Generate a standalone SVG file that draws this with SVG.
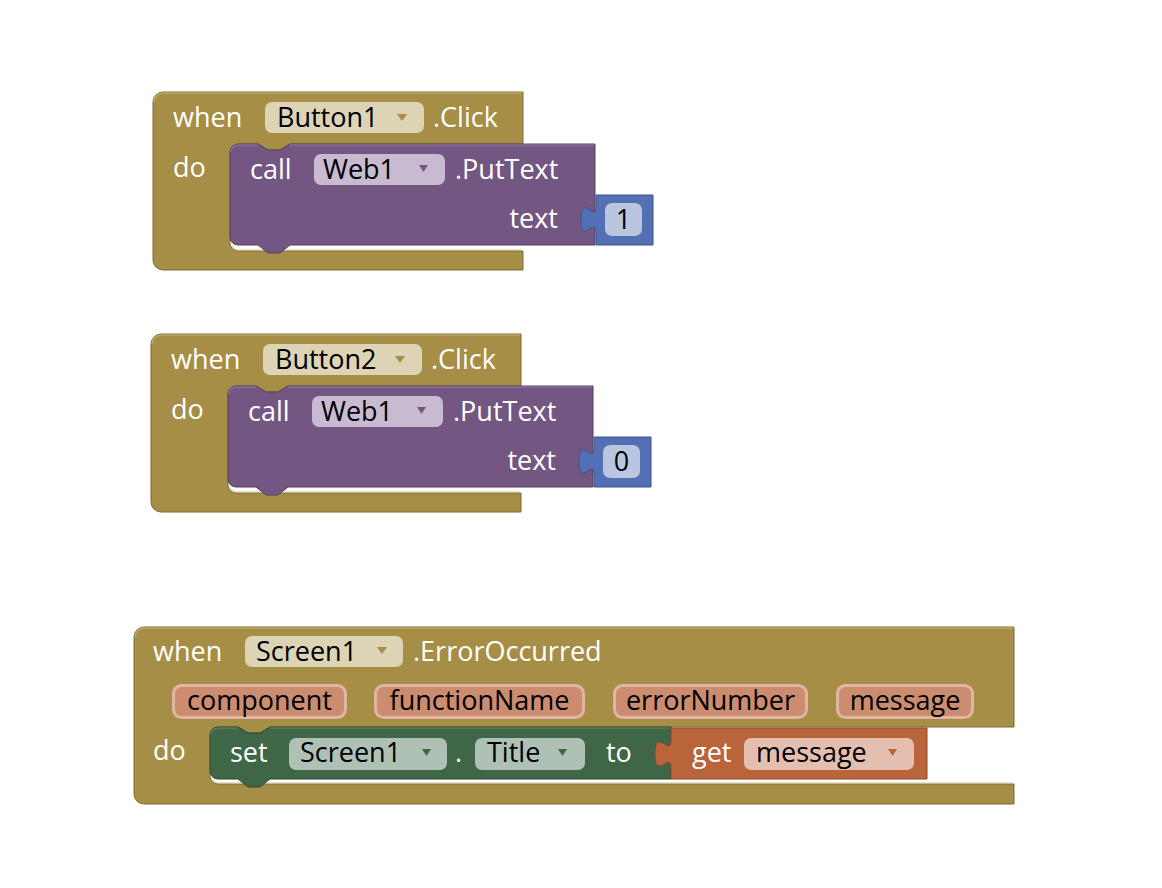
<svg xmlns="http://www.w3.org/2000/svg" width="1162" height="888" viewBox="0 0 1162 888">
<style>
text{font-family:"Open Sans","Noto Sans","DejaVu Sans",sans-serif;font-size:27px}
.w{fill:#fff}
.k{fill:#000}
.gold{fill:#A68E46;stroke:#7F6B31;stroke-width:1}
.purple{fill:#735782;stroke:#54405F;stroke-width:1}
.blue{fill:#5470B5;stroke:#3D5290;stroke-width:1}
.green{fill:#3E6647;stroke:#2B4832;stroke-width:1}
.orange{fill:#B9643A;stroke:#8A4827;stroke-width:1}
.hl{fill:none;stroke-width:1.5;opacity:0.6}
.fg{fill:#DCD4B5}
.fp{fill:#C8BAD0}
.fb{fill:#BAC6E0}
.fgr{fill:#AFC1B4}
.fo{fill:#E4BEAE}
.param{fill:#CC8C70;stroke:#E2B4A1;stroke-width:3}
.ag{fill:#A68E46}
.ap{fill:#735782}
.agr{fill:#3E6647}
.ao{fill:#B9643A}
</style>
<g id="connectors"></g>

<g id="block-button1-click">
  <path class="gold" d="M153,102 a10,10 0 0 1 10,-10 H523 V144 H290 l-10,6 h-12 l-10,-6 H238 a8,8 0 0 0 -8,8 V243 a8,8 0 0 0 8,8 H523 V270 H163 a10,10 0 0 1 -10,-10 Z"/>
  <path class="hl" stroke="#CDBB85" d="M154,102 a9,9 0 0 1 9,-9 H522 M232,245 a7,7 0 0 0 7,5 H522"/>
  <text class="w" x="173" y="127">when</text>
  <rect class="fg" x="265" y="102" width="159" height="31" rx="7"/>
  <text class="k" x="277" y="127">Button1</text>
  <path class="ag" d="M397,114 h10 l-5,7 Z"/>
  <text class="w" x="433" y="127">.Click</text>
  <text class="w" x="173" y="177">do</text>
  <g id="block-web1-puttext-1">
    <path class="purple" d="M230,152 a8,8 0 0 1 8,-8 H258 l10,6 h12 l10,-6 H595 V245 H290 l-10,8 h-12 l-10,-8 H238 a8,8 0 0 1 -8,-8 Z"/>
    <path class="hl" stroke="#9A84A6" d="M231,152 a7,7 0 0 1 7,-7 H258 M290,145 H594"/>
    <text class="w" x="250" y="179">call</text>
    <rect class="fp" x="314" y="154" width="131" height="31" rx="7"/>
    <text class="k" x="323" y="179">Web1</text>
    <path class="ap" d="M419,165 h9 l-4.5,7 Z"/>
    <text class="w" x="455" y="179">.PutText</text>
    <text class="w" x="558" y="228" text-anchor="end">text</text>
  </g>
  <g id="block-number-1">
    <path class="blue" d="M596,195 H653 V245 H596 V233 c0,-18 -15,14 -15,-13.5 s15,4.5 15,-13.5 Z"/>
    <rect class="fb" x="605" y="203" width="37" height="33" rx="7"/>
    <text class="k" x="623.5" y="229" text-anchor="middle">1</text>
  </g>
</g>

<g id="block-button2-click" transform="translate(-2,242)">
  <path class="gold" d="M153,102 a10,10 0 0 1 10,-10 H523 V144 H290 l-10,6 h-12 l-10,-6 H238 a8,8 0 0 0 -8,8 V243 a8,8 0 0 0 8,8 H523 V270 H163 a10,10 0 0 1 -10,-10 Z"/>
  <path class="hl" stroke="#CDBB85" d="M154,102 a9,9 0 0 1 9,-9 H522 M232,245 a7,7 0 0 0 7,5 H522"/>
  <text class="w" x="173" y="127">when</text>
  <rect class="fg" x="265" y="102" width="159" height="31" rx="7"/>
  <text class="k" x="277" y="127">Button2</text>
  <path class="ag" d="M397,114 h10 l-5,7 Z"/>
  <text class="w" x="433" y="127">.Click</text>
  <text class="w" x="173" y="177">do</text>
  <g id="block-web1-puttext-0">
    <path class="purple" d="M230,152 a8,8 0 0 1 8,-8 H258 l10,6 h12 l10,-6 H595 V245 H290 l-10,8 h-12 l-10,-8 H238 a8,8 0 0 1 -8,-8 Z"/>
    <path class="hl" stroke="#9A84A6" d="M231,152 a7,7 0 0 1 7,-7 H258 M290,145 H594"/>
    <text class="w" x="250" y="179">call</text>
    <rect class="fp" x="314" y="154" width="131" height="31" rx="7"/>
    <text class="k" x="323" y="179">Web1</text>
    <path class="ap" d="M419,165 h9 l-4.5,7 Z"/>
    <text class="w" x="455" y="179">.PutText</text>
    <text class="w" x="558" y="228" text-anchor="end">text</text>
  </g>
  <g id="block-number-0">
    <path class="blue" d="M596,195 H653 V245 H596 V233 c0,-18 -15,14 -15,-13.5 s15,4.5 15,-13.5 Z"/>
    <rect class="fb" x="605" y="203" width="37" height="33" rx="7"/>
    <text class="k" x="623.5" y="229" text-anchor="middle">0</text>
  </g>
</g>

<g id="block-screen1-erroroccurred">
  <path class="gold" d="M134,637 a10,10 0 0 1 10,-10 H1014 V727 H270 l-10,6 h-12 l-10,-6 H218 a8,8 0 0 0 -8,8 V776 a8,8 0 0 0 8,8 H1014 V804 H144 a10,10 0 0 1 -10,-10 Z"/>
  <path class="hl" stroke="#CDBB85" d="M135,637 a9,9 0 0 1 9,-9 H1013 M212,778 a7,7 0 0 0 7,5 H1013"/>
  <text class="w" x="153" y="661">when</text>
  <rect class="fg" x="245" y="636" width="158" height="31" rx="7"/>
  <text class="k" x="256" y="661">Screen1</text>
  <path class="ag" d="M377,647 h10 l-5,7 Z"/>
  <text class="w" x="413" y="661">.ErrorOccurred</text>
  <rect class="param" x="173.5" y="685.5" width="172" height="32" rx="8"/>
  <text class="k" x="259.5" y="710" text-anchor="middle">component</text>
  <rect class="param" x="375.5" y="685.5" width="208" height="32" rx="8"/>
  <text class="k" x="479.5" y="710" text-anchor="middle">functionName</text>
  <rect class="param" x="614.5" y="685.5" width="192" height="32" rx="8"/>
  <text class="k" x="710.5" y="710" text-anchor="middle">errorNumber</text>
  <rect class="param" x="837.5" y="685.5" width="135" height="32" rx="8"/>
  <text class="k" x="905" y="710" text-anchor="middle">message</text>
  <text class="w" x="153" y="760">do</text>
  <g id="block-set-screen1-title">
    <path class="green" d="M210,735 a8,8 0 0 1 8,-8 H238 l10,6 h12 l10,-6 H671 V779 H270 l-10,8 h-12 l-10,-8 H218 a8,8 0 0 1 -8,-8 Z"/>
    <path class="hl" stroke="#6E8E75" d="M211,735 a7,7 0 0 1 7,-7 H238 M270,728 H670"/>
    <text class="w" x="230" y="762">set</text>
    <rect class="fgr" x="289" y="738" width="158" height="32" rx="7"/>
    <text class="k" x="300" y="762">Screen1</text>
    <path class="agr" d="M422,749 h9 l-4.5,7 Z"/>
    <text class="w" x="455" y="762">.</text>
    <rect class="fgr" x="475" y="738" width="110" height="32" rx="7"/>
    <text class="k" x="487" y="762">Title</text>
    <path class="agr" d="M558,749 h9 l-4.5,7 Z"/>
    <text class="w" x="606" y="762">to</text>
  </g>
  <g id="block-get-message">
    <path class="orange" d="M671,728 H927 V779 H671 V768 c0,-18 -16,14 -16,-14 s16,4 16,-14 Z"/>
    <text class="w" x="692" y="762">get</text>
    <rect class="fo" x="744" y="738" width="170" height="32" rx="7"/>
    <text class="k" x="756" y="762">message</text>
    <path class="ao" d="M888,749 h9 l-4.5,7 Z"/>
  </g>
</g>
</svg>
